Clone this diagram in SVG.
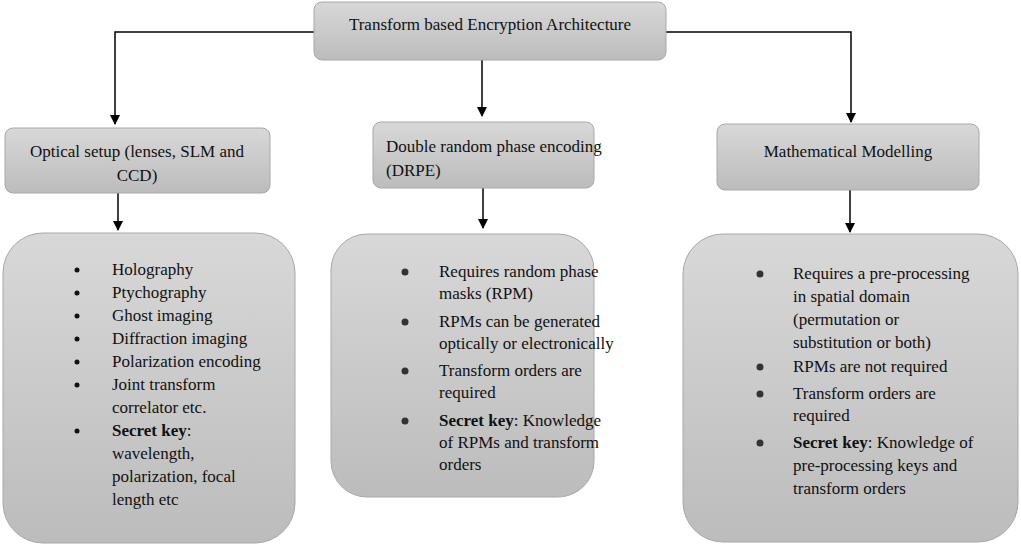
<svg xmlns="http://www.w3.org/2000/svg" width="1021" height="546" viewBox="0 0 1021 546" font-family="'Liberation Serif','Times New Roman','DejaVu Serif',serif">
<defs>
<linearGradient id="g" x1="0" y1="0" x2="0" y2="1"><stop offset="0" stop-color="#d8d8d8"/><stop offset="1" stop-color="#bcbcbc"/></linearGradient>
<marker id="a" markerWidth="10" markerHeight="10" refX="9" refY="5" orient="auto" markerUnits="userSpaceOnUse"><path d="M0,0L10,5L0,10z" fill="#000"/></marker>
<style>
.b{fill:url(#g);stroke:#a8a8a8;stroke-width:1}
text{font-family:'Liberation Serif','Times New Roman','DejaVu Serif',serif;font-size:17px;fill:#111}
.c{text-anchor:middle}
.l{stroke:#000;stroke-width:1.5;fill:none}
</style>
</defs>
<rect width="1021" height="546" fill="#fff"/>
<g id="connectors">
<path class="l" d="M314,32H115V124" marker-end="url(#a)"/>
<path class="l" d="M666,32H851V122" marker-end="url(#a)"/>
<path class="l" d="M482,60V116" marker-end="url(#a)"/>
<path class="l" d="M118,193V230" marker-end="url(#a)"/>
<path class="l" d="M483,188V228" marker-end="url(#a)"/>
<path class="l" d="M850,190V232" marker-end="url(#a)"/>
</g>
<g id="top"><rect class="b" x="314" y="2" width="352" height="58" rx="8"/><text class="c" x="490" y="30">Transform based Encryption  Architecture</text></g>
<g id="n1"><rect class="b" x="5" y="128" width="265" height="65" rx="8"/><text class="c" x="137" y="157">Optical setup (lenses, SLM and</text><text class="c" x="137" y="181">CCD)</text></g>
<g id="n2"><rect class="b" x="373" y="122" width="221" height="66" rx="8"/><text x="386" y="152">Double random phase encoding</text><text x="386" y="176">(DRPE)</text></g>
<g id="n3"><rect class="b" x="717" y="124" width="262" height="66" rx="8"/><text class="c" x="848" y="157">Mathematical Modelling</text></g>
<g id="d1"><rect class="b" x="3" y="233" width="292" height="310" rx="40"/>
<g fill="#111"><circle cx="77" cy="270" r="2.5"/><circle cx="77" cy="293" r="2.5"/><circle cx="77" cy="316" r="2.5"/><circle cx="77" cy="339" r="2.5"/><circle cx="77" cy="362" r="2.5"/><circle cx="77" cy="385" r="2.5"/><circle cx="77" cy="431" r="2.5"/></g>
<text x="112" y="275">Holography</text><text x="112" y="298">Ptychography</text><text x="112" y="321">Ghost imaging</text><text x="112" y="344">Diffraction imaging</text><text x="112" y="367">Polarization encoding</text><text x="112" y="390">Joint transform</text><text x="112" y="413">correlator etc.</text><text x="112" y="436"><tspan font-weight="bold">Secret key</tspan>:</text><text x="112" y="459">wavelength,</text><text x="112" y="482">polarization, focal</text><text x="112" y="505">length etc</text></g>
<g id="d2"><rect class="b" x="331" y="234" width="263" height="263" rx="36"/>
<g fill="#333"><circle cx="405" cy="272" r="3.5"/><circle cx="405" cy="322" r="3.5"/><circle cx="405" cy="371" r="3.5"/><circle cx="405" cy="421" r="3.5"/></g>
<text x="439" y="277">Requires random phase</text><text x="439" y="299">masks (RPM)</text><text x="439" y="327">RPMs can be generated</text><text x="439" y="349">optically or electronically</text><text x="439" y="376">Transform orders are</text><text x="439" y="398">required</text><text x="439" y="426"><tspan font-weight="bold">Secret key</tspan>: Knowledge</text><text x="439" y="448">of RPMs and transform</text><text x="439" y="470">orders</text></g>
<g id="d3"><rect class="b" x="683" y="234" width="335" height="308" rx="40"/>
<g fill="#333"><circle cx="760" cy="274" r="3.5"/><circle cx="760" cy="367" r="3.5"/><circle cx="760" cy="394" r="3.5"/><circle cx="760" cy="443" r="3.5"/></g>
<text x="793" y="279">Requires a pre-processing</text><text x="793" y="302">in spatial domain</text><text x="793" y="325">(permutation or</text><text x="793" y="348">substitution or both)</text><text x="793" y="372">RPMs are not required</text><text x="793" y="399">Transform orders are</text><text x="793" y="421">required</text><text x="793" y="448"><tspan font-weight="bold">Secret key</tspan>: Knowledge of</text><text x="793" y="471">pre-processing keys and</text><text x="793" y="494">transform orders</text></g>
</svg>
